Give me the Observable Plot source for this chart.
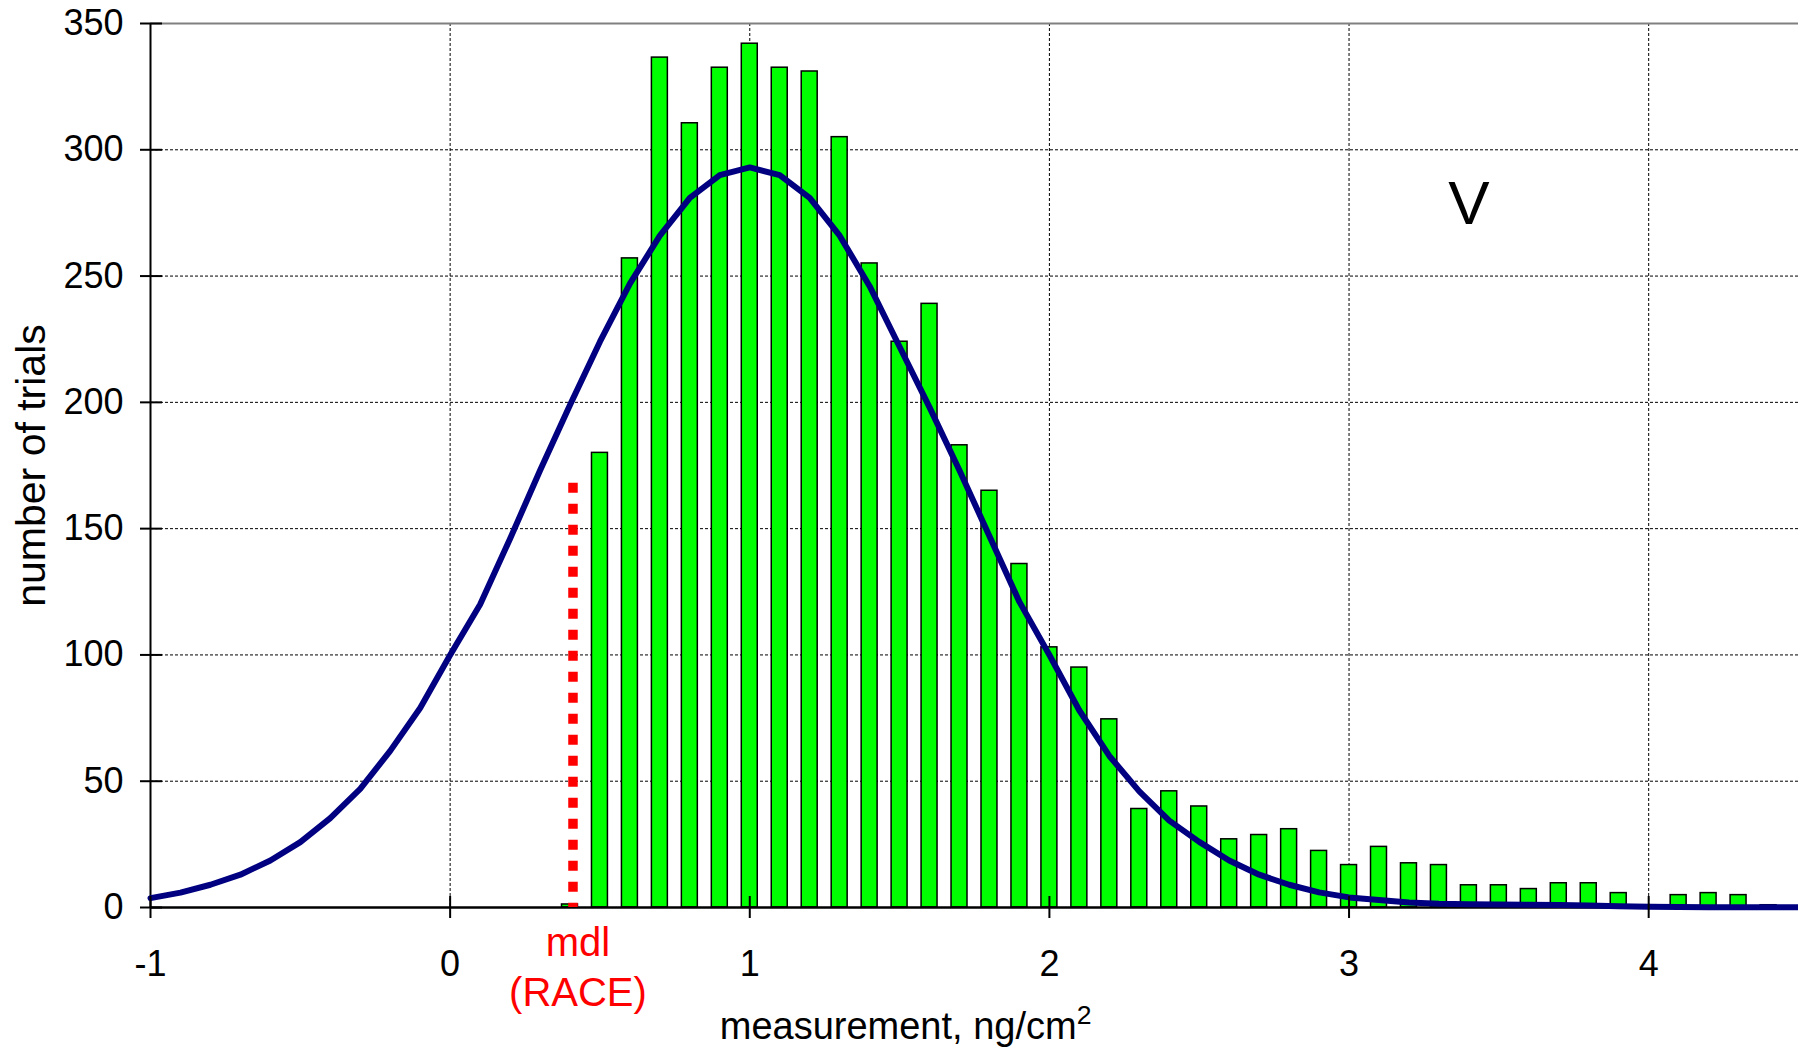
<!DOCTYPE html>
<html>
<head>
<meta charset="utf-8">
<script src="https://cdn.jsdelivr.net/npm/d3@7"></script>
<script src="https://cdn.jsdelivr.net/npm/@observablehq/plot@0.6"></script>
<style>
  html, body { margin: 0; padding: 0; background: white; }
  #chart svg { display: block; }
</style>
</head>
<body>
<div id="chart"></div>
<script>
// ---- data ----
const xTicks = [-1, 0, 1, 2, 3, 4];
const xGridTicks = [0, 1, 2, 3, 4];
const yTicks = [0, 50, 100, 150, 200, 250, 300, 350];
const yGridTicks = [50, 100, 150, 200, 250, 300];

// histogram bin centres and counts
const binCenters = [0.4, 0.5, 0.6, 0.7, 0.8, 0.9, 1.0, 1.1, 1.2, 1.3, 1.4, 1.5, 1.6, 1.7, 1.8, 1.9,
  2.0, 2.1, 2.2, 2.3, 2.4, 2.5, 2.6, 2.7, 2.8, 2.9, 3.0, 3.1, 3.2, 3.3, 3.4, 3.5, 3.6, 3.7, 3.8, 3.9,
  4.0, 4.1, 4.2, 4.3, 4.4];
const binCounts = [1.2, 180, 257, 336.5, 310.5, 332.5, 342, 332.5, 331, 305, 255, 224, 239, 183, 165, 136,
  103, 95, 74.5, 39, 46, 40, 27, 28.7, 31, 22.4, 16.8, 24, 17.5, 16.8, 8.8, 8.8, 7.3, 9.6, 9.6, 5.7,
  0.9, 4.9, 5.7, 4.9, 0.9];

// fitted curve
const curveX = [-1.0, -0.9, -0.8, -0.7, -0.6, -0.5, -0.4, -0.3, -0.2, -0.1, 0.0, 0.1, 0.2, 0.3, 0.4, 0.5,
  0.6, 0.7, 0.8, 0.9, 1.0, 1.1, 1.2, 1.3, 1.4, 1.5, 1.6, 1.7, 1.8, 1.9, 2.0, 2.1, 2.2, 2.3, 2.4, 2.5,
  2.6, 2.7, 2.8, 2.9, 3.0, 3.1, 3.2, 3.3, 3.4, 3.5, 3.6, 3.7, 3.8, 3.9, 4.0, 4.1, 4.2, 4.3, 4.4, 4.5];
const curveY = [3.7, 5.9, 9, 13, 18.6, 25.9, 35.4, 47, 62, 79, 100, 120, 146, 173, 199, 224,
  247, 266, 281, 290, 293, 290, 281, 266, 246, 222, 198, 173, 147, 121, 100, 78, 60, 46, 34.4, 26,
  18.6, 13, 9, 6, 4, 3, 2, 1.5, 1.3, 1.2, 1.1, 1.0, 0.8, 0.5, 0.3, 0.2, 0.1, 0.1, 0.1, 0.1];

// method detection limit marker
const mdlX = [0.41];
const mdlTop = [168];
const mdlLabel = ["mdl\n(RACE)"];

// annotations
const panelLabel = ["V"];
const panelPos = [3.4, 278.5];
const xTitleBase = "measurement, ng/cm";
const xTitleSup = "2";
const xTitle = [xTitleBase + xTitleSup];
const xTitlePos = [1.52];
const yTitle = ["number of trials"];

// ---- build tables ----
const bars = binCenters.map((x, i) => ({x, n: binCounts[i]}));
const curve = curveX.map((x, i) => ({x, y: curveY[i]}));
const mdl = mdlX.map((x, i) => ({x, top: mdlTop[i], label: mdlLabel[i]}));
const panel = panelLabel.map(t => ({x: panelPos[0], y: panelPos[1], label: t}));
const xt = xTitle.map((t, i) => ({x: xTitlePos[i], label: t}));
const yt = yTitle.map(t => ({label: t}));

const FONT = "'Liberation Sans', Arial, Helvetica, sans-serif";

const chart = Plot.plot({
  width: 1798,
  height: 1052,
  marginLeft: 150,
  marginRight: 0,
  marginTop: 23,
  marginBottom: 145,
  x: {domain: [-1, 4.5]},
  y: {domain: [0, 350]},
  style: {fontFamily: FONT, fontSize: "36px", color: "black", background: "white", overflow: "visible"},
  marks: [
    Plot.gridX(xGridTicks, {stroke: "#000", strokeOpacity: 1, strokeWidth: 1, strokeDasharray: "3,2"}),
    Plot.gridY(yGridTicks, {stroke: "#000", strokeOpacity: 1, strokeWidth: 1, strokeDasharray: "3,2"}),
    Plot.ruleY([350], {stroke: "#808080", strokeWidth: 2}),
    Plot.rectY(bars, {
      x1: d => d.x - 0.05, x2: d => d.x + 0.05, y: "n",
      insetLeft: 7, insetRight: 7,
      fill: "#00FF00", stroke: "#000", strokeWidth: 1.5
    }),
    Plot.ruleY([0], {stroke: "#000", strokeWidth: 2.5}),
    Plot.ruleX([-1], {stroke: "#000", strokeWidth: 2}),
    Plot.line(curve, {x: "x", y: "y", stroke: "#000080", strokeWidth: 6, strokeLinejoin: "round"}),
    Plot.ruleX(mdl, {x: "x", y1: "top", y2: () => 0, stroke: "#FF0000", strokeWidth: 9.5, strokeDasharray: "10,11"}),
    // axes: labels
    Plot.axisY(yTicks, {tickSize: 0, tickPadding: 27, fontSize: 36, label: null}),
    Plot.axisX(xTicks, {tickSize: 0, tickPadding: 43, fontSize: 36, tickFormat: d => String(d), label: null}),
    // axes: tick marks crossing the axis lines
    Plot.axisY(yTicks, {tickSize: 22, dx: 12, strokeWidth: 2, tickFormat: () => "", label: null}),
    Plot.axisX(xTicks, {tickSize: 22, dy: -11, strokeWidth: 2, tickFormat: () => "", label: null}),
    // annotations
    Plot.text(mdl, {x: "x", text: "label", frameAnchor: "bottom", lineAnchor: "top", lineHeight: 1.25,
      dy: 13, dx: 5, fill: "#FF0000", fontSize: 40}),
    Plot.text(panel, {x: "x", y: "y", text: "label", fontSize: 62, fill: "#000"}),
    Plot.text(xt, {x: "x", text: "label", frameAnchor: "bottom", dy: 131, fontSize: 38, fill: "#000",
      className: "xtitle"}),
    Plot.text(yt, {text: "label", frameAnchor: "left", textAnchor: "middle", rotate: -90, dx: -119,
      fontSize: 41, fill: "#000"})
  ]
});

// render the "2" of cm2 as a real superscript
d3.select(chart).selectAll("text").each(function() {
  if (this.textContent === xTitle[0]) {
    const t = d3.select(this);
    t.text(null);
    t.append("tspan").text(xTitleBase);
    t.append("tspan").attr("dy", "-0.55em").attr("font-size", "0.7em").text(xTitleSup);
  }
});

document.getElementById("chart").appendChild(chart);
</script>
</body>
</html>
